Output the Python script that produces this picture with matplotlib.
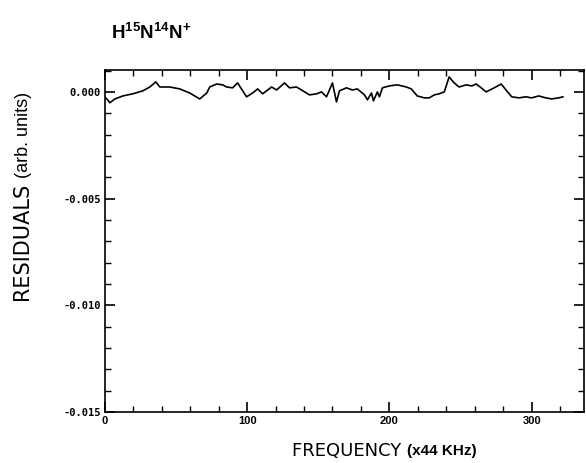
import matplotlib

matplotlib.use("Agg")
import matplotlib.pyplot as plt
from matplotlib.ticker import MultipleLocator

# residual trace (x in units of 44 kHz, y in 1e-3 arb. units)
freq = [0, 1.4, 3.5, 7, 12.6, 19.6, 26.7, 31.6, 35.8, 38.6, 45.6, 52.6, 59.6,
        66.7, 71.6, 73.7, 78.6, 82.8, 85.6, 89.8, 93.3, 99.6, 103.9, 107.4,
        110.9, 117.2, 120.7, 126.3, 129.8, 134.7, 138.2, 143.9, 148.8, 152.3,
        155.8, 160, 162.8, 164.9, 169.8, 174, 177.5, 182.5, 184.6, 187.4,
        188.8, 191.6, 193, 195.1, 200, 205.6, 211.9, 215.4, 219.6, 224.6, 228,
        231.6, 235, 238.6, 242, 245.6, 249, 254, 258, 261, 264.6, 268, 273.7,
        278.6, 282, 286, 291, 296, 300, 305, 310, 314, 319, 322]
resid_milli = [-0.25, -0.33, -0.51, -0.33, -0.19, -0.09, 0.05, 0.23, 0.47, 0.23,
               0.23, 0.14, -0.05, -0.33, -0.05, 0.23, 0.37, 0.33, 0.23, 0.19,
               0.42, -0.23, -0.05, 0.14, -0.09, 0.23, 0.09, 0.42, 0.19, 0.23,
               0.09, -0.14, -0.09, 0.0, -0.23, 0.42, -0.47, 0.05, 0.19, 0.09,
               0.14, -0.14, -0.37, -0.05, -0.42, 0.0, -0.23, 0.19, 0.28, 0.33,
               0.23, 0.14, -0.19, -0.28, -0.28, -0.14, -0.09, 0.0, 0.70, 0.42,
               0.23, 0.33, 0.28, 0.37, 0.19, 0.0, 0.19, 0.37, 0.09, -0.23, -0.28,
               -0.23, -0.28, -0.19, -0.28, -0.33, -0.28, -0.23]
resid = [v * 1e-3 for v in resid_milli]

xticks = [0, 100, 200, 300]
xtick_labels = ["0", "100", "200", "300"]
yticks = [0.0, -0.005, -0.010, -0.015]
ytick_labels = ["0.000", "-0.005", "-0.010", "-0.015"]

plt.rcParams["mathtext.fontset"] = "custom"
plt.rcParams["mathtext.bf"] = "Liberation Sans:bold"
plt.rcParams["mathtext.rm"] = "Liberation Sans"

fig = plt.figure(figsize=(5.86, 4.63), dpi=100)
ax = fig.add_axes([0.179, 0.110, 0.818, 0.739])

ax.plot(freq, resid, color="black", lw=1.2)

ax.set_xlim(0, 337)
ax.set_ylim(-0.015, 0.00103)
ax.set_xticks(xticks)
ax.set_xticklabels(xtick_labels, fontfamily="Liberation Sans",
                   fontweight="bold", fontsize=8)
ax.set_yticks(yticks)
ax.set_yticklabels(ytick_labels, fontfamily="DejaVu Sans Mono",
                   fontweight="bold", fontsize=7.5)
ax.xaxis.set_minor_locator(MultipleLocator(20))
ax.yaxis.set_minor_locator(MultipleLocator(0.001))
ax.tick_params(which="both", direction="in", top=True, right=True,
               color="black")
ax.tick_params(which="major", length=7, width=1.2, pad=3)
ax.tick_params(which="minor", length=4, width=1.0)
for sp in ax.spines.values():
    sp.set_linewidth(1.2)

# axis labels: plain caps part + bold parenthetical, as in the scan
ax.text(0.63, -0.115, "FREQUENCY ", transform=ax.transAxes, ha="right",
        va="center", fontsize=13, fontfamily="DejaVu Sans")
ax.text(0.63, -0.115, "(x44 KHz)", transform=ax.transAxes, ha="left",
        va="center", fontsize=11, fontfamily="Liberation Sans",
        fontweight="bold")
ax.text(-0.169, 0.685, "RESIDUALS ", transform=ax.transAxes, ha="right",
        va="center", rotation=90, rotation_mode="anchor", fontsize=15,
        fontfamily="DejaVu Sans")
ax.text(-0.169, 0.685, "(arb. units)", transform=ax.transAxes, ha="left",
        va="center", rotation=90, rotation_mode="anchor", fontsize=13,
        fontfamily="Liberation Sans")

fig.text(0.19, 0.928, r"$\mathbf{H^{15}N^{14}N^{+}}$", fontsize=13.5,
         ha="left", va="center")

fig.savefig("out.png", dpi=100)
